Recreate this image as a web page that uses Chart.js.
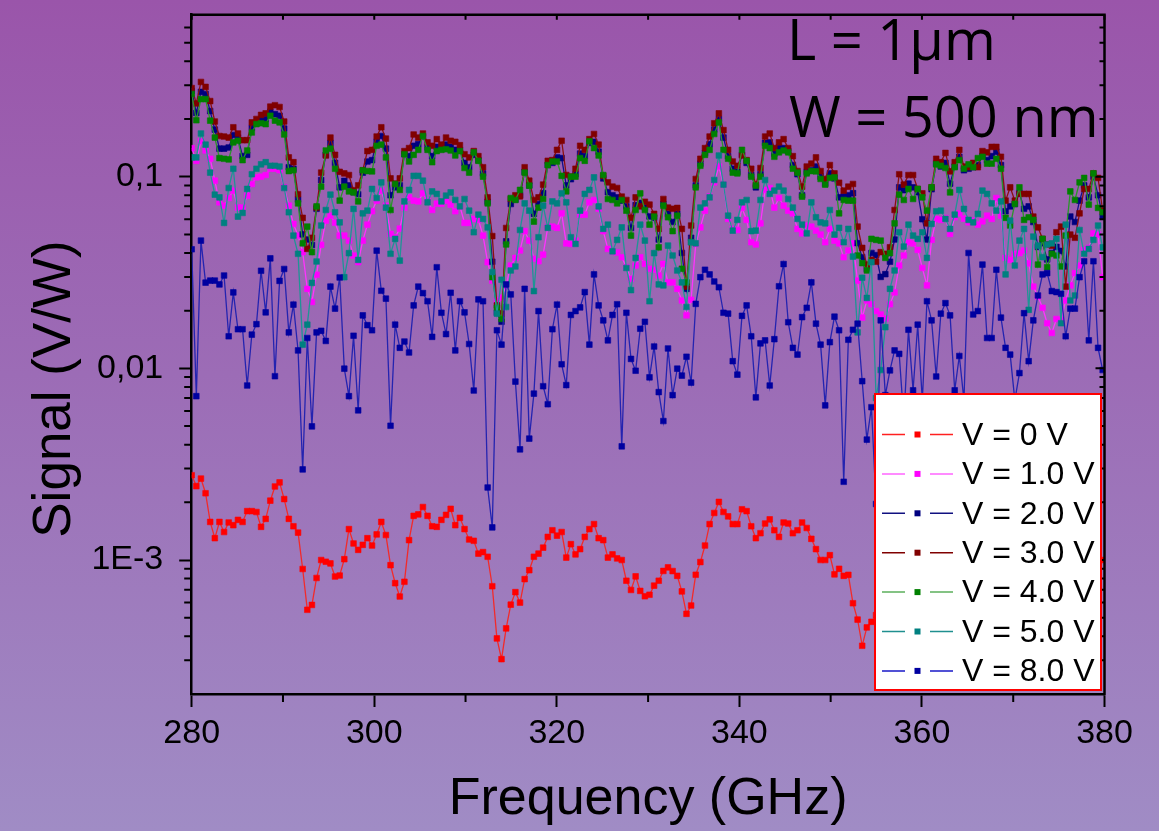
<!DOCTYPE html>
<html>
<head>
<meta charset="utf-8">
<title>Signal vs Frequency</title>
<script src="https://cdn.jsdelivr.net/npm/chart.js@4.4.1/dist/chart.umd.min.js"></script>
<style>
  html, body { margin: 0; padding: 0; }
  body {
    width: 1159px; height: 831px; overflow: hidden;
    background: linear-gradient(180deg, #9a55aa 0%, #9c6cb6 45%, #a08cc5 100%);
  }
  #chart { display: block; }
</style>
</head>
<body>
<canvas id="chart" width="1159" height="831"></canvas>
<script>
// Frequency sweep: first sample and spacing (GHz)
const FREQ_START = 280;
const FREQ_STEP = 0.5066;
const N_POINTS = 198;
const freqs = Array.from({ length: N_POINTS }, (_, i) => FREQ_START + i * FREQ_STEP);

// Axis ticks
const xMajorTicks = [280, 300, 320, 340, 360, 380];
const xMinorTicks = [290, 310, 330, 350, 370];
const yMajorTicks = [0.001, 0.01, 0.1];
const yTickLabels = ['1E-3', '0,01', '0,1'];
const yAxisTitle = 'Signal (V/W)';

// Annotation lines
const noteLines = ['L = 1\u00b5m', 'W = 500 nm'];

// Series labels
const seriesLabels = ['V = 0 V', 'V = 1.0 V', 'V = 2.0 V', 'V = 3.0 V', 'V = 4.0 V', 'V = 5.0 V', 'V = 8.0 V'];

// Signal (V/W), one value per frequency sample
const sigV0 = [
  0.00277, 0.00243, 0.00266, 0.00223, 0.00158, 0.00130, 0.00158, 0.00140, 0.00157, 0.00152,
  0.00162, 0.00158, 0.00180, 0.00180, 0.00178, 0.00149, 0.00164, 0.00204, 0.00242, 0.00254,
  0.00208, 0.00164, 0.00150, 0.00139, 0.000898, 0.00055, 0.000583, 0.000806, 0.00100, 0.00098,
  0.00096, 0.00082, 0.00083, 0.00101, 0.00145, 0.00122, 0.00113, 0.00120, 0.00130, 0.00119,
  0.00136, 0.00158, 0.00135, 0.00094, 0.000757, 0.000645, 0.00077, 0.00127, 0.00170, 0.00173,
  0.00189, 0.00170, 0.00150, 0.00149, 0.00162, 0.00172, 0.00185, 0.00152, 0.00166, 0.00145,
  0.00128, 0.00126, 0.00108, 0.00110, 0.00104, 0.00073, 0.00039, 0.000304, 0.00044, 0.000585,
  0.00068, 0.00060, 0.000795, 0.000885, 0.00104, 0.00108, 0.00116, 0.00132, 0.00143, 0.00134,
  0.00140, 0.00103, 0.00121, 0.00107, 0.00114, 0.00132, 0.00145, 0.00154, 0.00130, 0.00127,
  0.00103, 0.00107, 0.00102, 0.00100, 0.00078, 0.000698, 0.000822, 0.00069, 0.000647, 0.000659,
  0.000735, 0.00078, 0.000877, 0.000915, 0.000876, 0.000827, 0.000686, 0.000524, 0.000579, 0.000838,
  0.000976, 0.00119, 0.00154, 0.00176, 0.00201, 0.00178, 0.00169, 0.00154, 0.00154, 0.00184,
  0.00180, 0.00150, 0.00130, 0.00138, 0.00155, 0.00163, 0.00143, 0.00132, 0.00157, 0.00155,
  0.00138, 0.00143, 0.00157, 0.00147, 0.00129, 0.00114, 0.00100, 0.00100, 0.00106, 0.000842,
  0.00090, 0.000827, 0.000837, 0.000595, 0.000489, 0.000357, 0.000445, 0.000476, 0.000516, 0.000438,
  0.00058, 0.00062, 0.00068, 0.00075, 0.00072, 0.00080, 0.00088, 0.00085, 0.00095, 0.00102,
  0.00098, 0.00110, 0.00115, 0.00108, 0.00118, 0.00122, 0.00113, 0.00105, 0.00112, 0.00120,
  0.00116, 0.00108, 0.00101, 0.00095, 0.00098, 0.00090, 0.00084, 0.00088, 0.00080, 0.00076,
  0.00082, 0.00087, 0.00093, 0.00097, 0.00092, 0.00099, 0.00104, 0.00098, 0.00094, 0.00101,
  0.00107, 0.00103, 0.00097, 0.00100, 0.00106, 0.00102, 0.00099, 0.00100
];

const sigV1 = [
  0.141, 0.121, 0.153, 0.137, 0.124, 0.0953, 0.0735, 0.0706, 0.0774, 0.0846,
  0.069, 0.069, 0.0796, 0.0916, 0.0992, 0.100, 0.102, 0.110, 0.110, 0.108,
  0.088, 0.0706, 0.0567, 0.0493, 0.0404, 0.026, 0.0222, 0.0308, 0.0441, 0.059,
  0.0626, 0.0576, 0.0493, 0.0493, 0.0464, 0.0388, 0.0358, 0.0464, 0.0562, 0.066,
  0.075, 0.0846, 0.0706, 0.0503, 0.0483, 0.0536, 0.069, 0.078, 0.075, 0.0743,
  0.0819, 0.075, 0.067, 0.0723, 0.0723, 0.075, 0.0715, 0.066, 0.070, 0.0574,
  0.0574, 0.0602, 0.0595, 0.0493, 0.0358, 0.0287, 0.0226, 0.0234, 0.0271, 0.0344,
  0.0377, 0.0412, 0.052, 0.0464, 0.0373, 0.0362, 0.0392, 0.0544, 0.0549, 0.0541,
  0.0644, 0.0449, 0.0446, 0.0464, 0.0634, 0.0634, 0.0735, 0.0756, 0.0681, 0.052,
  0.042, 0.0408, 0.0402, 0.038, 0.0337, 0.0293, 0.0344, 0.038, 0.0351, 0.0331,
  0.0327, 0.0305, 0.0351, 0.0281, 0.0281, 0.026, 0.0226, 0.0189, 0.0228, 0.0446,
  0.0544, 0.0665, 0.0787, 0.0934, 0.113, 0.0909, 0.0602, 0.0534, 0.0527, 0.0687,
  0.0595, 0.0455, 0.0443, 0.0571, 0.0853, 0.0873, 0.069, 0.0774, 0.0706, 0.0665,
  0.0644, 0.0534, 0.0506, 0.0556, 0.0549, 0.0523, 0.0499, 0.0455, 0.0534, 0.0464,
  0.0449, 0.038, 0.0412, 0.0449, 0.0287, 0.0184, 0.0226, 0.0216, 0.0199, 0.0191,
  0.0182, 0.0216, 0.0249, 0.0344, 0.0388, 0.0455, 0.0448, 0.0415, 0.0334, 0.0271,
  0.0468, 0.0602, 0.0595, 0.0609, 0.0503, 0.0614, 0.0644, 0.0604, 0.0578, 0.059,
  0.0562, 0.0585, 0.0626, 0.0602, 0.0774, 0.0626, 0.0377, 0.0368, 0.0396, 0.0399,
  0.0412, 0.0353, 0.0267, 0.0237, 0.0207, 0.0172, 0.0153, 0.0181, 0.0178, 0.0226,
  0.0271, 0.0314, 0.0344, 0.0415, 0.0425, 0.0506, 0.0499, 0.0299
];

const sigV2 = [
  0.280, 0.215, 0.277, 0.270, 0.220, 0.176, 0.140, 0.140, 0.142, 0.165,
  0.160, 0.128, 0.130, 0.180, 0.190, 0.198, 0.200, 0.218, 0.212, 0.208,
  0.178, 0.112, 0.110, 0.076, 0.050, 0.047, 0.044, 0.068, 0.096, 0.130,
  0.150, 0.118, 0.088, 0.095, 0.090, 0.083, 0.081, 0.105, 0.120, 0.122,
  0.152, 0.163, 0.140, 0.080, 0.088, 0.090, 0.131, 0.128, 0.145, 0.148,
  0.162, 0.142, 0.128, 0.143, 0.140, 0.147, 0.143, 0.138, 0.138, 0.118,
  0.112, 0.130, 0.122, 0.104, 0.074, 0.036, 0.0195, 0.0175, 0.046, 0.072,
  0.076, 0.080, 0.106, 0.090, 0.064, 0.072, 0.082, 0.115, 0.118, 0.126,
  0.125, 0.090, 0.097, 0.103, 0.132, 0.128, 0.150, 0.152, 0.135, 0.098,
  0.083, 0.080, 0.078, 0.075, 0.070, 0.054, 0.071, 0.073, 0.069, 0.062,
  0.061, 0.047, 0.072, 0.064, 0.058, 0.064, 0.040, 0.026, 0.048, 0.090,
  0.117, 0.133, 0.148, 0.176, 0.200, 0.160, 0.128, 0.110, 0.106, 0.130,
  0.118, 0.102, 0.088, 0.103, 0.150, 0.151, 0.132, 0.142, 0.141, 0.136,
  0.115, 0.103, 0.080, 0.106, 0.108, 0.113, 0.100, 0.092, 0.104, 0.098,
  0.078, 0.079, 0.080, 0.082, 0.045, 0.038, 0.033, 0.040, 0.039, 0.030,
  0.031, 0.036, 0.047, 0.088, 0.085, 0.092, 0.088, 0.083, 0.060, 0.047,
  0.086, 0.117, 0.113, 0.118, 0.092, 0.113, 0.127, 0.108, 0.110, 0.112,
  0.115, 0.128, 0.122, 0.128, 0.135, 0.115, 0.066, 0.070, 0.072, 0.082,
  0.068, 0.070, 0.058, 0.043, 0.045, 0.037, 0.040, 0.043, 0.041, 0.034,
  0.062, 0.058, 0.075, 0.090, 0.078, 0.100, 0.080, 0.062
];

const sigV3 = [
  0.290, 0.241, 0.312, 0.294, 0.248, 0.194, 0.163, 0.162, 0.160, 0.181,
  0.168, 0.155, 0.155, 0.192, 0.200, 0.210, 0.214, 0.232, 0.236, 0.231,
  0.194, 0.126, 0.119, 0.081, 0.061, 0.042, 0.048, 0.069, 0.105, 0.129,
  0.160, 0.130, 0.106, 0.104, 0.102, 0.085, 0.090, 0.108, 0.136, 0.138,
  0.162, 0.181, 0.158, 0.098, 0.092, 0.098, 0.136, 0.141, 0.166, 0.160,
  0.168, 0.151, 0.145, 0.157, 0.147, 0.160, 0.154, 0.152, 0.146, 0.131,
  0.126, 0.136, 0.128, 0.112, 0.078, 0.049, 0.0213, 0.0193, 0.054, 0.0765,
  0.080, 0.079, 0.112, 0.0953, 0.0756, 0.078, 0.0909, 0.121, 0.122, 0.138,
  0.154, 0.102, 0.100, 0.110, 0.145, 0.138, 0.157, 0.167, 0.147, 0.101,
  0.0934, 0.0887, 0.0873, 0.0787, 0.0756, 0.061, 0.078, 0.070, 0.074, 0.0715,
  0.064, 0.0534, 0.0765, 0.069, 0.068, 0.0687, 0.0534, 0.0267, 0.0556, 0.0973,
  0.124, 0.141, 0.162, 0.190, 0.214, 0.175, 0.138, 0.120, 0.114, 0.129,
  0.122, 0.110, 0.091, 0.111, 0.162, 0.168, 0.141, 0.151, 0.157, 0.141,
  0.128, 0.107, 0.0887, 0.113, 0.117, 0.126, 0.107, 0.0973, 0.115, 0.104,
  0.093, 0.0846, 0.0887, 0.0916, 0.0549, 0.0425, 0.0348, 0.0368, 0.036, 0.0404,
  0.0396, 0.0428, 0.067, 0.103, 0.0909, 0.102, 0.102, 0.0863, 0.0819, 0.0571,
  0.088, 0.124, 0.119, 0.133, 0.1066, 0.119, 0.138, 0.113, 0.112, 0.118,
  0.112, 0.136, 0.134, 0.143, 0.143, 0.127, 0.075, 0.088, 0.075, 0.0813,
  0.0813, 0.0813, 0.0619, 0.0544, 0.0474, 0.0443, 0.0437, 0.0513, 0.0549, 0.0267,
  0.0499, 0.048, 0.0644, 0.0863, 0.0863, 0.104, 0.0985, 0.0665
];

const sigV4 = [
  0.270, 0.197, 0.254, 0.254, 0.196, 0.160, 0.125, 0.124, 0.123, 0.151,
  0.154, 0.122, 0.137, 0.170, 0.188, 0.190, 0.188, 0.208, 0.196, 0.192,
  0.166, 0.107, 0.108, 0.0726, 0.0449, 0.0549, 0.0404, 0.070, 0.0887, 0.137,
  0.140, 0.110, 0.075, 0.0887, 0.0838, 0.0828, 0.0743, 0.108, 0.107, 0.1066,
  0.145, 0.147, 0.126, 0.067, 0.0916, 0.0853, 0.131, 0.120, 0.130, 0.138,
  0.163, 0.138, 0.119, 0.136, 0.138, 0.139, 0.137, 0.129, 0.136, 0.111,
  0.105, 0.134, 0.121, 0.100, 0.0726, 0.0299, 0.0207, 0.0181, 0.0443, 0.0774,
  0.0756, 0.0853, 0.105, 0.0898, 0.0583, 0.069, 0.0765, 0.115, 0.120, 0.120,
  0.101, 0.0838, 0.100, 0.100, 0.125, 0.121, 0.153, 0.141, 0.129, 0.102,
  0.0765, 0.0756, 0.0726, 0.0756, 0.0665, 0.0493, 0.067, 0.0819, 0.067, 0.0562,
  0.0619, 0.0428, 0.0706, 0.0614, 0.052, 0.0626, 0.0331, 0.0281, 0.0455, 0.088,
  0.114, 0.130, 0.138, 0.167, 0.192, 0.138, 0.124, 0.105, 0.104, 0.138,
  0.121, 0.100, 0.0898, 0.100, 0.145, 0.141, 0.127, 0.134, 0.137, 0.134,
  0.110, 0.105, 0.0787, 0.104, 0.107, 0.1066, 0.0973, 0.0909, 0.0985, 0.0992,
  0.0644, 0.0756, 0.075, 0.075, 0.0388, 0.0354, 0.0324, 0.0474, 0.0468, 0.0464,
  0.0377, 0.0399, 0.0571, 0.0806, 0.0756, 0.0863, 0.0765, 0.0863, 0.078, 0.0665,
  0.088, 0.116, 0.114, 0.111, 0.0828, 0.112, 0.122, 0.110, 0.116, 0.112,
  0.125, 0.127, 0.117, 0.117, 0.124, 0.110, 0.061, 0.0556, 0.0721, 0.088,
  0.0595, 0.0614, 0.0595, 0.0348, 0.0474, 0.0337, 0.0396, 0.0388, 0.034, 0.0493,
  0.0838, 0.0756, 0.0934, 0.0985, 0.0715, 0.104, 0.0687, 0.0652
];

const sigV5 = [
  0.126, 0.126, 0.168, 0.147, 0.105, 0.0806, 0.078, 0.0574, 0.0873, 0.110,
  0.0619, 0.0647, 0.0863, 0.103, 0.110, 0.116, 0.119, 0.114, 0.114, 0.113,
  0.0873, 0.0652, 0.0493, 0.0396, 0.0133, 0.0169, 0.0279, 0.0361, 0.0556, 0.067,
  0.0806, 0.0652, 0.0578, 0.0299, 0.0399, 0.0679, 0.0368, 0.0644, 0.0665, 0.0863,
  0.0774, 0.0934, 0.069, 0.0396, 0.0474, 0.0365, 0.0743, 0.0853, 0.101, 0.101,
  0.0953, 0.0735, 0.0838, 0.0813, 0.0743, 0.0796, 0.0828, 0.0756, 0.070, 0.0765,
  0.0665, 0.0513, 0.0634, 0.0602, 0.0544, 0.0318, 0.0193, 0.029, 0.0209, 0.0324,
  0.034, 0.0527, 0.0726, 0.0665, 0.0253, 0.0483, 0.0706, 0.0541, 0.0743, 0.0726,
  0.0819, 0.0735, 0.0483, 0.0446, 0.0665, 0.0813, 0.0853, 0.0992, 0.070, 0.0534,
  0.0562, 0.0408, 0.0468, 0.0544, 0.0334, 0.0256, 0.0377, 0.0562, 0.0464, 0.0224,
  0.0399, 0.0274, 0.0271, 0.0437, 0.0388, 0.0324, 0.0281, 0.0209, 0.0455, 0.0449,
  0.069, 0.0726, 0.078, 0.0961, 0.129, 0.0909, 0.0626, 0.0523, 0.0595, 0.0735,
  0.0756, 0.052, 0.0523, 0.0756, 0.0961, 0.0813, 0.0846, 0.0887, 0.0846, 0.0765,
  0.069, 0.0602, 0.0562, 0.0506, 0.0735, 0.0614, 0.0578, 0.0571, 0.067, 0.0499,
  0.0541, 0.0455, 0.0534, 0.0383, 0.0154, 0.0297, 0.0233, 0.0358, 0.007, 0.0098,
  0.0164, 0.026, 0.0324, 0.0513, 0.0432, 0.0562, 0.0493, 0.0474, 0.0513, 0.0377,
  0.0567, 0.066, 0.0665, 0.0602, 0.0534, 0.0634, 0.0853, 0.0679, 0.0595, 0.0578,
  0.064, 0.0846, 0.0813, 0.0726, 0.0665, 0.0743, 0.0309, 0.059, 0.0344, 0.0464,
  0.0534, 0.0202, 0.0487, 0.0437, 0.038, 0.0443, 0.0449, 0.0474, 0.0172, 0.0562,
  0.0226, 0.024, 0.0527, 0.0396, 0.042, 0.0468, 0.0556, 0.0428
];

const sigV8 = [
  0.0418, 0.00716, 0.0464, 0.028, 0.0287, 0.0287, 0.0274, 0.0305, 0.0147, 0.0249,
  0.016, 0.016, 0.00814, 0.015, 0.017, 0.0323, 0.0196, 0.0375, 0.0091, 0.0286,
  0.033, 0.0154, 0.0215, 0.0124, 0.00297, 0.0144, 0.00498, 0.0154, 0.0157, 0.0139,
  0.0267, 0.0205, 0.0298, 0.00996, 0.00716, 0.0148, 0.00604, 0.0189, 0.0168, 0.0158,
  0.0411, 0.0254, 0.0231, 0.00502, 0.0169, 0.0128, 0.0138, 0.0121, 0.0213, 0.0267,
  0.0247, 0.0224, 0.0146, 0.0337, 0.0195, 0.0151, 0.0248, 0.0124, 0.0224, 0.0196,
  0.0134, 0.00766, 0.0229, 0.0224, 0.00239, 0.00148, 0.0158, 0.0133, 0.0274, 0.0243,
  0.00853, 0.00378, 0.026, 0.0043, 0.00738, 0.0199, 0.00807, 0.0065, 0.016, 0.0215,
  0.0105, 0.00818, 0.019, 0.0199, 0.0208, 0.025, 0.0133, 0.0309, 0.0213, 0.0178,
  0.014, 0.019, 0.0216, 0.00392, 0.0195, 0.0112, 0.00972, 0.0161, 0.0175, 0.00898,
  0.013, 0.00752, 0.00531, 0.0127, 0.00725, 0.00996, 0.00917, 0.0115, 0.00843, 0.0217,
  0.0299, 0.0327, 0.0309, 0.0284, 0.0265, 0.0195, 0.0193, 0.0109, 0.00927, 0.0188,
  0.0213, 0.0147, 0.00706, 0.0135, 0.014, 0.00814, 0.0142, 0.0268, 0.035, 0.0174,
  0.0128, 0.0118, 0.0185, 0.0207, 0.0281, 0.0171, 0.0133, 0.00641, 0.0137, 0.0186,
  0.0158, 0.00256, 0.0141, 0.0159, 0.0171, 0.00857, 0.00425, 0.00627, 0.00196, 0.0178,
  0.00725, 0.00976, 0.0124, 0.0119, 0.00536, 0.0159, 0.00768, 0.0169, 0.00681, 0.0224,
  0.0178, 0.00907, 0.0193, 0.0219, 0.0189, 0.00768, 0.0116, 0.00681, 0.04, 0.0191,
  0.0199, 0.0348, 0.0144, 0.0144, 0.0327, 0.0184, 0.0128, 0.0118, 0.00681, 0.00945,
  0.0194, 0.0109, 0.0178, 0.024, 0.0309, 0.0314, 0.0253, 0.025, 0.0245, 0.0147,
  0.0205, 0.0205, 0.0299, 0.0362, 0.014, 0.0362, 0.0128, 0.0098
];

const seriesValues = [sigV0, sigV1, sigV2, sigV3, sigV4, sigV5, sigV8];
// marker colour, line colour, legend line colour, drawing order (lower = on top)
const seriesStyle = [
  { mark: '#ff0000', line: '#f22a2a', legendLine: '#ff2020', order: 6 },
  { mark: '#ff00ff', line: '#ff33ff', legendLine: '#ff66ff', order: 5 },
  { mark: '#000080', line: '#10108a', legendLine: '#101080', order: 4 },
  { mark: '#800000', line: '#8a1010', legendLine: '#800000', order: 3 },
  { mark: '#008000', line: '#2a962a', legendLine: '#5cb05c', order: 2 },
  { mark: '#008080', line: '#1f9595', legendLine: '#1f8f8f', order: 1 },
  { mark: '#0000a0', line: '#2424b0', legendLine: '#1818c8', order: 0 }
];

const FONT = "'Liberation Sans', Arial, Helvetica, sans-serif";

const datasets = seriesValues.map((vals, k) => ({
  label: seriesLabels[k],
  data: vals.map((v, i) => ({ x: freqs[i], y: v })),
  borderColor: seriesStyle[k].line,
  borderWidth: 1.3,
  backgroundColor: seriesStyle[k].mark,
  pointBackgroundColor: seriesStyle[k].mark,
  pointBorderColor: seriesStyle[k].mark,
  pointBorderWidth: 0.6,
  pointStyle: 'rect',
  pointRadius: 4,
  pointHoverRadius: 4,
  tension: 0,
  order: seriesStyle[k].order
}));

// Frame, minor ticks, y title, legend box and annotation text
const decorPlugin = {
  id: 'decor',
  afterDraw(chart) {
    const { ctx, chartArea: a, scales } = chart;
    const xs = scales.x, ys = scales.y;
    ctx.save();
    ctx.strokeStyle = '#000';
    ctx.lineCap = 'butt';

    // top and right frame
    ctx.lineWidth = 2.5;
    ctx.beginPath();
    ctx.moveTo(a.left - 1.25, a.top);
    ctx.lineTo(a.right, a.top);
    ctx.lineTo(a.right, a.bottom + 1.25);
    ctx.stroke();

    // x minor ticks (bottom, outward) and top ticks (inward)
    ctx.lineWidth = 2;
    ctx.beginPath();
    xMinorTicks.forEach(v => {
      const px = xs.getPixelForValue(v);
      ctx.moveTo(px, a.bottom);
      ctx.lineTo(px, a.bottom + 8);
    });
    xMajorTicks.concat(xMinorTicks).forEach(v => {
      const px = xs.getPixelForValue(v);
      ctx.moveTo(px, a.top);
      ctx.lineTo(px, a.top + 5);
    });
    ctx.stroke();

    // y minor ticks (left outward, right inward)
    const [ymin, ymax] = [ys.min, ys.max];
    ctx.beginPath();
    for (let e = -4; e <= 0; e++) {
      for (let m = 1; m <= 9; m++) {
        const v = m * Math.pow(10, e);
        if (v < ymin * 1.001 || v > ymax * 0.999) continue;
        const py = ys.getPixelForValue(v);
        if (m !== 1) {
          ctx.moveTo(a.left, py);
          ctx.lineTo(a.left - 7.5, py);
          ctx.moveTo(a.right, py);
          ctx.lineTo(a.right - 5, py);
        } else {
          ctx.moveTo(a.right, py);
          ctx.lineTo(a.right - 9, py);
        }
      }
    }
    ctx.stroke();

    // y axis title
    ctx.save();
    ctx.translate(55, 389);
    ctx.rotate(-Math.PI / 2);
    ctx.fillStyle = '#000';
    ctx.font = '53px ' + FONT;
    ctx.textAlign = 'center';
    ctx.textBaseline = 'middle';
    ctx.fillText(yAxisTitle, 0, 0);
    ctx.restore();

    // legend box
    const box = { x: 875, y: 394, w: 226, h: 296 };
    ctx.fillStyle = '#ffffff';
    ctx.fillRect(box.x, box.y, box.w, box.h);
    ctx.strokeStyle = '#ff0000';
    ctx.lineWidth = 2;
    ctx.strokeRect(box.x, box.y, box.w, box.h);

    const row0 = 434.5, rowGap = 39.4;
    ctx.font = '32px ' + FONT;
    ctx.textBaseline = 'middle';
    ctx.textAlign = 'left';
    seriesLabels.forEach((lab, k) => {
      const yRow = row0 + k * rowGap;
      const st = seriesStyle[k];
      ctx.strokeStyle = st.legendLine;
      ctx.lineWidth = 1.5;
      ctx.beginPath();
      ctx.moveTo(882, yRow); ctx.lineTo(905, yRow);
      ctx.moveTo(930, yRow); ctx.lineTo(953, yRow);
      ctx.stroke();
      ctx.fillStyle = st.mark;
      ctx.fillRect(914.5, yRow - 3, 6, 6);
      ctx.fillStyle = '#000';
      ctx.fillText(lab, 962, yRow + 1.5);
    });

    // annotation
    ctx.fillStyle = '#000';
    ctx.font = "56px 'Open Sans', " + FONT;
    ctx.textBaseline = 'alphabetic';
    ctx.fillText(noteLines[0], 787, 60);
    ctx.fillText(noteLines[1], 789, 137);
    ctx.restore();
  }
};

new Chart(document.getElementById('chart'), {
  type: 'line',
  data: { datasets },
  options: {
    responsive: false,
    animation: false,
    events: [],
    layout: { padding: { top: 14.7, right: 54.5, left: 0, bottom: 0 } },
    plugins: { legend: { display: false }, tooltip: { enabled: false } },
    scales: {
      x: {
        type: 'linear',
        min: 280,
        max: 380,
        afterBuildTicks: s => { s.ticks = xMajorTicks.map(v => ({ value: v })); },
        afterFit: s => { s.height = 137; s.paddingLeft = 0; s.paddingRight = 0; },
        ticks: { font: { family: FONT, size: 34 }, color: '#000', padding: 6, maxRotation: 0, autoSkip: false },
        grid: { drawOnChartArea: false, drawTicks: true, tickLength: 13, tickWidth: 2, tickColor: '#000' },
        border: { display: true, color: '#000', width: 2.5 },
        title: {
          display: true, text: 'Frequency (GHz)', color: '#000',
          font: { family: FONT, size: 52, lineHeight: 1.2 }, padding: { top: 0, bottom: 0 }
        }
      },
      y: {
        type: 'logarithmic',
        min: 0.0002,
        max: 0.7,
        afterBuildTicks: s => { s.ticks = yMajorTicks.map(v => ({ value: v })); },
        afterFit: s => { s.width = 191.7; s.paddingTop = 0; s.paddingBottom = 0; },
        ticks: {
          font: { family: FONT, size: 34 }, color: '#000', padding: 16, autoSkip: false,
          callback: (v, i) => yTickLabels[i]
        },
        grid: { drawOnChartArea: false, drawTicks: true, tickLength: 12.5, tickWidth: 2, tickColor: '#000' },
        border: { display: true, color: '#000', width: 2.5 },
        title: { display: false }
      }
    }
  },
  plugins: [decorPlugin]
});
</script>
</body>
</html>
